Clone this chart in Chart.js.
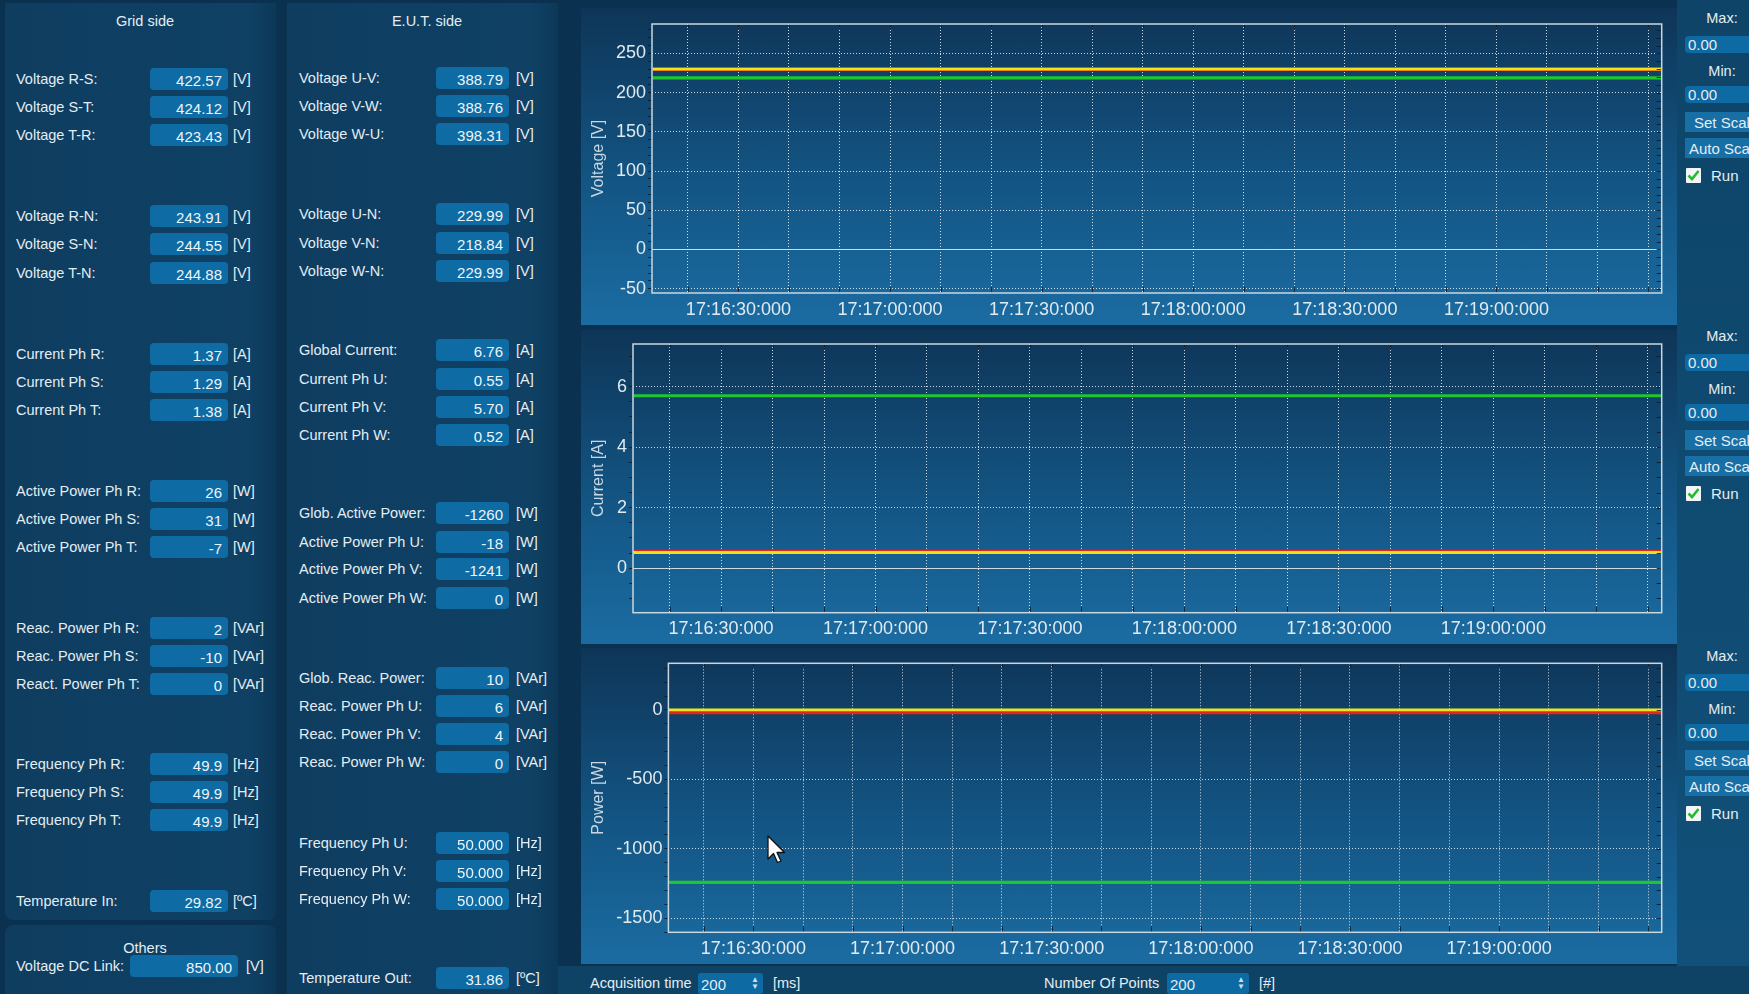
<!DOCTYPE html>
<html>
<head>
<meta charset="utf-8">
<title>Grid / E.U.T. monitor</title>
<script src="https://cdn.jsdelivr.net/npm/chart.js@4.4.1/dist/chart.umd.min.js"></script>
<style>
  html, body { margin:0; padding:0; }
  body { width:1749px; height:994px; overflow:hidden; position:relative; background:#0b3150;
         font-family:"Liberation Sans", Arial, sans-serif; color:#e4edf3; }
  .side { position:absolute; background:linear-gradient(to right, #0e3d60 0%, #0f4164 90%, #0c3858 100%); }
  .ttl { position:absolute; font-size:14.5px; text-align:center; width:220px; line-height:18px; }
  .lbl { position:absolute; font-size:14.5px; line-height:24px; white-space:nowrap; }
  .box { position:absolute; height:22px; line-height:25px; background:#0e6ba4; border-radius:4px;
         text-align:right; padding-right:6px; box-sizing:border-box; font-size:15px; color:#ecf5fa; overflow:hidden; white-space:nowrap; }
  .unit { position:absolute; font-size:14.5px; line-height:24px; white-space:nowrap; }
  .cpanel { position:absolute; left:581px; width:1096px;
            background:linear-gradient(to bottom, #0e3557 0%, #135584 55%, #1b6ca2 100%); }
  .cpanel canvas { position:absolute; left:0; top:0; }
  .ctrlcol { position:absolute; left:1677px; width:72px; top:0; height:966px;
             background:linear-gradient(to bottom, #0e4468, #115079); }
  .ctrl { position:absolute; left:1677px; width:72px; height:200px; overflow:hidden; }
  .ctrl .cl { position:absolute; left:0; width:90px; text-align:center; font-size:14.5px; line-height:18px; }
  .ctrl .inp { position:absolute; left:8px; width:80px; height:17px; line-height:18px; background:#0e6aa3;
               border-radius:4px 0 0 4px; font-size:15px; padding-left:3px; box-sizing:border-box; }
  .ctrl .btn { position:absolute; left:8px; width:80px; height:20px; line-height:21px; background:#176fa6;
               font-size:15px; box-sizing:border-box; white-space:nowrap; }
  .ctrl .chk { position:absolute; left:9px; width:15px; height:15px; background:#f2f6f8; border-radius:1px; }
  .ctrl .run { position:absolute; left:34px; font-size:15px; line-height:18px; }
  .bar { position:absolute; left:558px; top:966px; width:1191px; height:28px; background:#0f4366; }
  .bt { position:absolute; font-size:14.5px; line-height:20px; white-space:nowrap; }
  .spin { position:absolute; height:21px; background:#0e6aa3; border-radius:3px; font-size:15px; line-height:24px;
          padding-left:3px; box-sizing:border-box; }
  .spin i { position:absolute; right:4px; top:3px; font-style:normal; font-size:8px; line-height:7px; color:#cfe0ea; }
</style>
</head>
<body>
<div class="side" style="left:5px;top:3px;width:271px;height:917px;border-radius:0 0 8px 8px"></div>
<div class="side" style="left:5px;top:925px;width:271px;height:69px;border-radius:8px 8px 0 0"></div>
<div class="side" style="left:287px;top:3px;width:271px;height:991px"></div>
<div class="ctrlcol"></div>

<div class="cpanel" style="top:8px;height:317px"><canvas id="chartVoltage" width="1096" height="317"></canvas></div>
<div class="cpanel" style="top:330px;height:314px"><canvas id="chartCurrent" width="1096" height="314"></canvas></div>
<div class="cpanel" style="top:648px;height:316px"><canvas id="chartPower" width="1096" height="316"></canvas></div>
<div class="bar"></div>

<svg style="position:absolute;left:766px;top:834px" width="24" height="32" viewBox="0 0 24 32">
  <path d="M2 2 L2 25 L7.5 19.5 L11.5 28.5 L15 27 L11 18.5 L18.5 18.5 Z" fill="#ffffff" stroke="#111" stroke-width="1.3" stroke-linejoin="round"/>
</svg>

<script>
// ---------------- side panel readings ----------------
const gridLabels = ['Voltage R-S:', 'Voltage S-T:', 'Voltage T-R:',
  'Voltage R-N:', 'Voltage S-N:', 'Voltage T-N:',
  'Current Ph R:', 'Current Ph S:', 'Current Ph T:',
  'Active Power Ph R:', 'Active Power Ph S:', 'Active Power Ph T:',
  'Reac. Power Ph R:', 'Reac. Power Ph S:', 'React. Power Ph T:',
  'Frequency Ph R:', 'Frequency Ph S:', 'Frequency Ph T:',
  'Temperature In:'];
const gridValues = ['422.57', '424.12', '423.43',
  '243.91', '244.55', '244.88',
  '1.37', '1.29', '1.38',
  '26', '31', '-7',
  '2', '-10', '0',
  '49.9', '49.9', '49.9',
  '29.82'];
const gridUnits = ['[V]', '[V]', '[V]', '[V]', '[V]', '[V]',
  '[A]', '[A]', '[A]', '[W]', '[W]', '[W]',
  '[VAr]', '[VAr]', '[VAr]', '[Hz]', '[Hz]', '[Hz]', '[ºC]'];

const eutLabels = ['Voltage U-V:', 'Voltage V-W:', 'Voltage W-U:',
  'Voltage U-N:', 'Voltage V-N:', 'Voltage W-N:',
  'Global Current:', 'Current Ph U:', 'Current Ph V:', 'Current Ph W:',
  'Glob. Active Power:', 'Active Power Ph U:', 'Active Power Ph V:', 'Active Power Ph W:',
  'Glob. Reac. Power:', 'Reac. Power Ph U:', 'Reac. Power Ph V:', 'Reac. Power Ph W:',
  'Frequency Ph U:', 'Frequency Ph V:', 'Frequency Ph W:',
  'Temperature Out:'];
const eutValues = ['388.79', '388.76', '398.31',
  '229.99', '218.84', '229.99',
  '6.76', '0.55', '5.70', '0.52',
  '-1260', '-18', '-1241', '0',
  '10', '6', '4', '0',
  '50.000', '50.000', '50.000',
  '31.86'];
const eutUnits = ['[V]', '[V]', '[V]', '[V]', '[V]', '[V]',
  '[A]', '[A]', '[A]', '[A]', '[W]', '[W]', '[W]', '[W]',
  '[VAr]', '[VAr]', '[VAr]', '[VAr]', '[Hz]', '[Hz]', '[Hz]', '[ºC]'];

const otherLabels = ['Voltage DC Link:'];
const otherValues = ['850.00'];
const otherUnits = ['[V]'];

// ---------------- trend samples (one every 20 s) ----------------
const sampleTimes = ['17:16:13', '17:16:33', '17:16:53', '17:17:13', '17:17:33', '17:17:53',
  '17:18:13', '17:18:33', '17:18:53', '17:19:13', '17:19:33'];
const voltagePhU = [229.99, 229.99, 229.99, 229.99, 229.99, 229.99, 229.99, 229.99, 229.99, 229.99, 229.99];
const voltagePhV = [218.84, 218.84, 218.84, 218.84, 218.84, 218.84, 218.84, 218.84, 218.84, 218.84, 218.84];
const voltagePhW = [229.99, 229.99, 229.99, 229.99, 229.99, 229.99, 229.99, 229.99, 229.99, 229.99, 229.99];
const currentPhU = [0.55, 0.55, 0.55, 0.55, 0.55, 0.55, 0.55, 0.55, 0.55, 0.55, 0.55];
const currentPhV = [5.70, 5.70, 5.70, 5.70, 5.70, 5.70, 5.70, 5.70, 5.70, 5.70, 5.70];
const currentPhW = [0.52, 0.52, 0.52, 0.52, 0.52, 0.52, 0.52, 0.52, 0.52, 0.52, 0.52];
const powerPhU = [-18, -18, -18, -18, -18, -18, -18, -18, -18, -18, -18];
const powerPhV = [-1241, -1241, -1241, -1241, -1241, -1241, -1241, -1241, -1241, -1241, -1241];
const powerPhW = [0, 0, 0, 0, 0, 0, 0, 0, 0, 0, 0];

const timeTickLabels = ['17:16:30:000', '17:17:00:000', '17:17:30:000', '17:18:00:000', '17:18:30:000', '17:19:00:000'];
const timeWindow = ['17:16:12.9', '17:19:32.7'];

// ---------------- layout of the side panels ----------------
const gridRowTops = [68, 96, 124, 205, 233, 262, 343, 371, 399, 480, 508, 536, 617, 645, 673, 753, 781, 809, 890];
const eutRowTops = [67, 95, 123, 203, 232, 260, 339, 368, 396, 424, 502, 531, 558, 587, 667, 695, 723, 751, 832, 860, 888, 967];

function el(cls, text, css) {
  const d = document.createElement('div');
  d.className = cls;
  if (text !== undefined) d.textContent = text;
  Object.assign(d.style, css || {});
  document.body.appendChild(d);
  return d;
}
function rows(labels, values, units, tops, g) {
  labels.forEach((lab, i) => {
    const t = tops[i];
    el('lbl', lab, {left: g.lx + 'px', top: (t - 1) + 'px'});
    el('box', values[i], {left: g.bx + 'px', top: t + 'px', width: g.bw + 'px'});
    el('unit', units[i], {left: g.ux + 'px', top: (t - 1) + 'px'});
  });
}
el('ttl', 'Grid side', {left: '35px', top: '12px'});
el('ttl', 'E.U.T. side', {left: '317px', top: '12px'});
el('ttl', 'Others', {left: '35px', top: '939px'});
rows(gridLabels, gridValues, gridUnits, gridRowTops, {lx: 16, bx: 150, bw: 78, ux: 233});
rows(eutLabels, eutValues, eutUnits, eutRowTops, {lx: 299, bx: 436, bw: 73, ux: 516});
rows(otherLabels, otherValues, otherUnits, [955], {lx: 16, bx: 130, bw: 108, ux: 246});

// scale controls to the right of each plot
[8, 326, 646].forEach(top => {
  const c = el('ctrl', undefined, {top: top + 'px'});
  c.innerHTML =
    '<div class="cl" style="top:1px">Max:</div>' +
    '<div class="inp" style="top:28px">0.00</div>' +
    '<div class="cl" style="top:54px">Min:</div>' +
    '<div class="inp" style="top:78px">0.00</div>' +
    '<div class="btn" style="top:104px;padding-left:9px">Set Scale</div>' +
    '<div class="btn" style="top:130px;padding-left:4px">Auto Scale</div>' +
    '<div class="chk" style="top:160px"><svg width="15" height="15" viewBox="0 0 15 15"><path d="M2.5 7.5 L6 11 L12.5 3" fill="none" stroke="#27b82d" stroke-width="2.6"/></svg></div>' +
    '<div class="run" style="top:159px">Run</div>';
});

// acquisition settings bar
el('bt', 'Acquisition time', {left: '590px', top: '973px'});
el('spin', '200', {left: '698px', top: '973px', width: '65px'}).innerHTML = '200<i>▲<br>▼</i>';
el('bt', '[ms]', {left: '773px', top: '973px'});
el('bt', 'Number Of Points', {left: '1044px', top: '973px'});
el('spin', '200', {left: '1167px', top: '973px', width: '82px'}).innerHTML = '200<i>▲<br>▼</i>';
el('bt', '[#]', {left: '1259px', top: '973px'});

// ---------------- trend charts ----------------
const toSec = s => { const p = s.split(':'); return (+p[0]) * 3600 + (+p[1]) * 60 + parseFloat(p[2]); };
const pad2 = n => String(n).padStart(2, '0');
const fmtTime = v => {
  const t = Math.round(v);
  return pad2(Math.floor(t / 3600)) + ':' + pad2(Math.floor(t / 60) % 60) + ':' + pad2(t % 60) + ':000';
};
const series = arr => sampleTimes.map((t, i) => ({x: toSec(t), y: arr[i]}));

const TICK_FONT = {family: 'Liberation Sans', size: 18};
const TEXT_COL = '#e0eaf1';
const GRID_COL = 'rgba(236,243,248,0.85)';
const MARK_COL = 'rgba(12,26,40,0.85)';

const plotDecor = {
  id: 'plotDecor',
  beforeDatasetsDraw(chart) {
    const {ctx, chartArea: a, scales: {y}} = chart;
    const py = Math.round(y.getPixelForValue(0)) + 0.5;
    ctx.save();
    ctx.strokeStyle = 'rgba(214,226,234,0.92)';
    ctx.lineWidth = 1.2;
    ctx.beginPath(); ctx.moveTo(a.left, py); ctx.lineTo(a.right, py); ctx.stroke();
    ctx.restore();
  },
  afterDatasetsDraw(chart) {
    const {ctx, chartArea: a, scales: {x, y}} = chart;
    ctx.save();
    ctx.strokeStyle = MARK_COL;
    ctx.lineWidth = 1;
    ctx.beginPath();
    y.ticks.forEach(t => {
      const py = Math.round(y.getPixelForValue(t.value)) + 0.5;
      ctx.moveTo(a.right - 5, py); ctx.lineTo(a.right, py);
    });
    x.ticks.forEach(t => {
      const px = Math.round(x.getPixelForValue(t.value)) + 0.5;
      ctx.moveTo(px, a.top); ctx.lineTo(px, a.top + 4);
      ctx.moveTo(px, a.bottom); ctx.lineTo(px, a.bottom - 6);
    });
    ctx.stroke();
    ctx.strokeStyle = '#c9d7e0';
    ctx.lineWidth = 1.5;
    ctx.strokeRect(a.left, a.top, a.right - a.left, a.bottom - a.top);
    ctx.restore();
  }
};

function trend(canvasId, spec) {
  const isMajor = v => Math.abs(v / spec.major - Math.round(v / spec.major)) < 1e-6;
  return new Chart(document.getElementById(canvasId), {
    type: 'line',
    data: {
      datasets: [
        {label: 'Ph U', data: series(spec.u), borderColor: '#e3261b', borderWidth: 3.6, order: 2},
        {label: 'Ph V', data: series(spec.v), borderColor: '#1fc62c', borderWidth: 3.2, order: 1},
        {label: 'Ph W', data: series(spec.w), borderColor: '#f2e21a', borderWidth: 2.8, order: 0}
      ]
    },
    options: {
      responsive: false,
      animation: false,
      devicePixelRatio: 1,
      layout: {padding: {top: spec.padTop, right: 15.3, left: 0, bottom: 0}},
      plugins: {legend: {display: false}, tooltip: {enabled: false}},
      elements: {point: {radius: 0}, line: {tension: 0, borderCapStyle: 'butt', fill: false}},
      datasets: {line: {clip: 0}},
      scales: {
        x: {
          type: 'linear',
          min: toSec(timeWindow[0]), max: toSec(timeWindow[1]),
          ticks: {
            stepSize: 10, includeBounds: false, autoSkip: false, maxRotation: 0, minRotation: 0,
            color: TEXT_COL, font: TICK_FONT, padding: 6,
            callback: v => { const s = fmtTime(v); return timeTickLabels.includes(s) ? s : ''; }
          },
          grid: {color: GRID_COL, lineWidth: 1, drawTicks: false},
          border: {display: false, dash: [1, 2]},
          afterFit: s => { s.height = spec.xAxisH; }
        },
        y: {
          min: spec.min, max: spec.max,
          ticks: {
            stepSize: spec.minor, includeBounds: false, autoSkip: false,
            color: TEXT_COL, font: TICK_FONT, padding: 2,
            callback: v => isMajor(v) ? String(Math.round(v)) : ''
          },
          grid: {
            color: c => isMajor(c.tick.value) ? GRID_COL : 'rgba(0,0,0,0)',
            lineWidth: 1, drawTicks: true, tickLength: 4, tickColor: MARK_COL
          },
          border: {display: false, dash: [1, 2]},
          title: {display: true, text: spec.title, color: '#c9d8e3',
                  font: {family: 'Liberation Sans', size: 16}, padding: {top: 8, bottom: 0}},
          afterFit: s => { s.width = spec.yAxisW; }
        }
      }
    },
    plugins: [plotDecor]
  });
}

trend('chartVoltage', {title: 'Voltage [V]', u: voltagePhU, v: voltagePhV, w: voltagePhW,
  min: -55.5, max: 287.6, major: 50, minor: 10, yAxisW: 71, padTop: 16, xAxisH: 32});
trend('chartCurrent', {title: 'Current [A]', u: currentPhU, v: currentPhV, w: currentPhW,
  min: -1.47, max: 7.41, major: 2, minor: 0.5, yAxisW: 52, padTop: 14, xAxisH: 31.3});
trend('chartPower', {title: 'Power [W]', u: powerPhU, v: powerPhV, w: powerPhW,
  min: -1601, max: 336, major: 500, minor: 100, yAxisW: 87.4, padTop: 15.3, xAxisH: 31.7});
</script>
</body>
</html>
